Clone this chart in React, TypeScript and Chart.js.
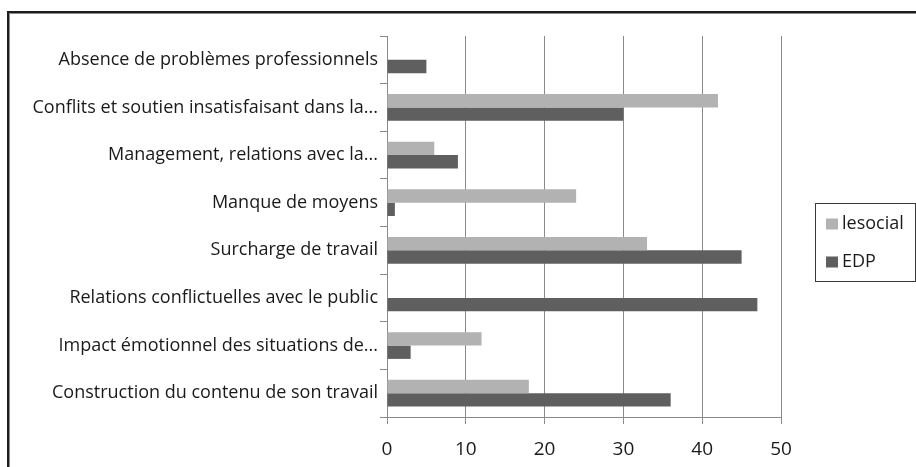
import React, { useEffect, useRef } from "react";
import { Chart, registerables } from "chart.js";

Chart.register(...registerables);

const categories = [
  "Absence de problèmes professionnels",
  "Conflits et soutien insatisfaisant dans la...",
  "Management, relations avec la...",
  "Manque de moyens",
  "Surcharge de travail",
  "Relations conflictuelles avec le public",
  "Impact émotionnel des situations de...",
  "Construction du contenu de son travail",
];
const seriesNames = ["lesocial", "EDP"];
const lesocialValues = [0, 42, 6, 24, 33, 0, 12, 18];
const edpValues = [5, 30, 9, 1, 45, 47, 3, 36];
const xMin = 0;
const xMax = 50;
const xStep = 10;

const seriesColors = ["#b2b2b2", "#5f5f5f"];
const FONT = "'Open Sans', 'DejaVu Sans', sans-serif";

const legendPlugin = {
  id: "boxLegend",
  afterDraw(chart: any) {
    const ctx = chart.ctx;
    const bx = 805.5, by = 189.5, bw = 100, bh = 78;
    ctx.save();
    ctx.strokeStyle = "#3a3a3a";
    ctx.lineWidth = 1;
    ctx.strokeRect(bx, by, bw, bh);
    ctx.font = `18px ${FONT}`;
    ctx.textBaseline = "middle";
    ctx.textAlign = "left";
    const rows = [210, 248];
    chart.data.datasets.forEach((ds: any, i: number) => {
      const cy = rows[i];
      ctx.fillStyle = ds.backgroundColor;
      ctx.fillRect(816, cy - 5.5, 12, 11);
      ctx.fillStyle = "#1a1a1a";
      ctx.fillText(ds.label, 832, cy);
    });
    ctx.restore();
  },
};

export default function App() {
  const ref = useRef<HTMLCanvasElement | null>(null);
  useEffect(() => {
    if (!ref.current) return;
    const chart = new Chart(ref.current, {
      type: "bar",
      data: {
        labels: categories,
        datasets: [
          { label: seriesNames[0], data: lesocialValues, backgroundColor: seriesColors[0] },
          { label: seriesNames[1], data: edpValues, backgroundColor: seriesColors[1] },
        ],
      },
      options: {
        indexAxis: "y",
        responsive: false,
        devicePixelRatio: 1,
        animation: false,
        layout: { padding: { left: 0, top: 22, right: 135, bottom: 0 } },
        datasets: { bar: { categoryPercentage: 0.56, barPercentage: 1.0 } },
        plugins: { legend: { display: false }, tooltip: { enabled: false } },
        scales: {
          x: {
            min: xMin,
            max: xMax,
            ticks: {
              stepSize: xStep,
              color: "#1a1a1a",
              font: { family: FONT, size: 19 },
              padding: 14,
            },
            grid: { color: "#8a8a8a", lineWidth: 1, tickLength: 7, drawTicks: true },
            border: { display: true, color: "#8a8a8a" },
            afterFit: (s: any) => { s.height = 50; },
          },
          y: {
            ticks: {
              color: "#1a1a1a",
              font: { family: FONT, size: 18 },
              padding: 2,
              autoSkip: false,
            },
            grid: { drawOnChartArea: false, color: "#8a8a8a", tickLength: 7, offset: true },
            border: { display: true, color: "#8a8a8a" },
            afterFit: (s: any) => { s.width = 377; },
          },
        },
      },
      plugins: [legendPlugin],
    });
    return () => chart.destroy();
  }, []);
  return (
    <div
      style={{
        position: "fixed",
        left: 7,
        top: 11,
        width: 909,
        height: 456,
        boxSizing: "border-box",
        borderTop: "2px solid #1e1e1e",
        borderLeft: "2px solid #1e1e1e",
        background: "#fff",
      }}
    >
      <div
        style={{
          width: "100%",
          height: "100%",
          boxSizing: "border-box",
          borderTop: "1px solid #8a8a8a",
          borderLeft: "1px solid #8a8a8a",
        }}
      >
        <canvas ref={ref} width={906} height={453} style={{ display: "block" }} />
      </div>
    </div>
  );
}
